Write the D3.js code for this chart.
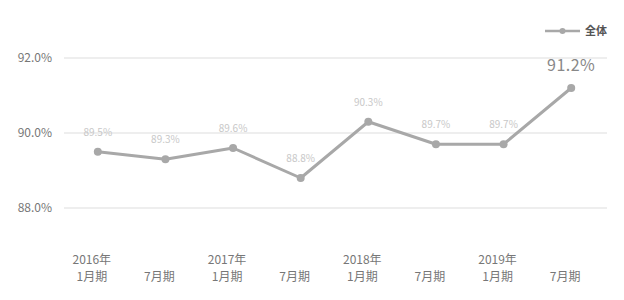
<!DOCTYPE html>
<html>
<head>
<meta charset="utf-8">
<script src="https://cdn.jsdelivr.net/npm/d3@7"></script>
<style>
  body { margin: 0; background: #fff; }
  text { font-family: "Noto Sans CJK JP", "Noto Sans", sans-serif; }
</style>
</head>
<body>
<div class="container"></div>
<script>
const years = ["2016年", "", "2017年", "", "2018年", "", "2019年", ""]
const periods = ["1月期", "7月期", "1月期", "7月期", "1月期", "7月期", "1月期", "7月期"]
const values = [89.5, 89.3, 89.6, 88.8, 90.3, 89.7, 89.7, 91.2]
const valueLabels = ["89.5%", "89.3%", "89.6%", "88.8%", "90.3%", "89.7%", "89.7%", "91.2%"]
const yTicks = [88, 90, 92]
const seriesName = "全体"

const width = 624
const height = 300
const lineColor = "#a8a8a8"

const svg = d3.select(".container").append("svg")
    .attr("width", width)
    .attr("height", height)

const idx = values.map((d, i) => i)

const xScale = d3.scaleBand()
    .domain(idx)
    .range([64, 605])

const yScale = d3.scaleLinear()
    .domain([87, 92])
    .range([245.5, 58])

const cx = i => xScale(i) + xScale.bandwidth() / 2

// grid lines
svg.append("g")
    .selectAll("line")
    .data(yTicks)
    .enter()
    .append("line")
    .attr("x1", 64)
    .attr("x2", 607)
    .attr("y1", d => yScale(d))
    .attr("y2", d => yScale(d))
    .attr("stroke", "#e8e8e8")
    .attr("stroke-width", 1.5)

// y axis labels
const yAxis = d3.axisLeft(yScale).tickValues(yTicks).tickSize(0).tickPadding(0)
    .tickFormat(d => d.toFixed(1) + "%")
svg.append("g")
    .attr("transform", "translate(52,0)")
    .call(yAxis)
    .call(g => g.select(".domain").remove())
    .selectAll("text")
    .attr("font-size", 12)
    .attr("fill", "#777")

// x axis labels (two lines)
const xAxis = svg.append("g")
xAxis.selectAll(".yr")
    .data(idx)
    .enter()
    .append("text")
    .attr("x", d => cx(d) - 6)
    .attr("y", 264)
    .attr("text-anchor", "middle")
    .attr("font-size", 12)
    .attr("fill", "#777")
    .text(d => years[d])
xAxis.selectAll(".pd")
    .data(idx)
    .enter()
    .append("text")
    .attr("x", d => cx(d) - 6)
    .attr("y", 281)
    .attr("text-anchor", "middle")
    .attr("font-size", 12)
    .attr("fill", "#777")
    .text(d => periods[d])

// line
const line = d3.line()
    .x((d, i) => cx(i))
    .y(d => yScale(d))

svg.append("path")
    .datum(values)
    .attr("d", line)
    .attr("fill", "none")
    .attr("stroke", lineColor)
    .attr("stroke-width", 3)
    .attr("stroke-linejoin", "round")

svg.selectAll(".dot")
    .data(values)
    .enter()
    .append("circle")
    .attr("cx", (d, i) => cx(i))
    .attr("cy", d => yScale(d))
    .attr("r", 4)
    .attr("fill", lineColor)

// value labels
svg.selectAll(".lbl")
    .data(values)
    .enter()
    .append("text")
    .attr("x", (d, i) => cx(i))
    .attr("y", (d, i) => i === values.length - 1 ? yScale(d) - 17 : yScale(d) - 16)
    .attr("text-anchor", "middle")
    .attr("font-size", (d, i) => i === values.length - 1 ? 16 : 10)
    .attr("letter-spacing", (d, i) => i === values.length - 1 ? 0.5 : 0)
    .attr("fill", (d, i) => i === values.length - 1 ? "#888" : "#c8c8c8")
    .text((d, i) => valueLabels[i])

// legend
const legend = svg.append("g").attr("transform", "translate(545,31)")
legend.append("line")
    .attr("x1", 0).attr("x2", 35)
    .attr("stroke", lineColor)
    .attr("stroke-width", 2.5)
legend.append("circle")
    .attr("cx", 17.5).attr("r", 3)
    .attr("fill", lineColor)
legend.append("text")
    .attr("x", 40)
    .attr("y", 4)
    .attr("font-size", 11)
    .attr("font-weight", "bold")
    .attr("fill", "#555")
    .text(seriesName)
</script>
</body>
</html>
